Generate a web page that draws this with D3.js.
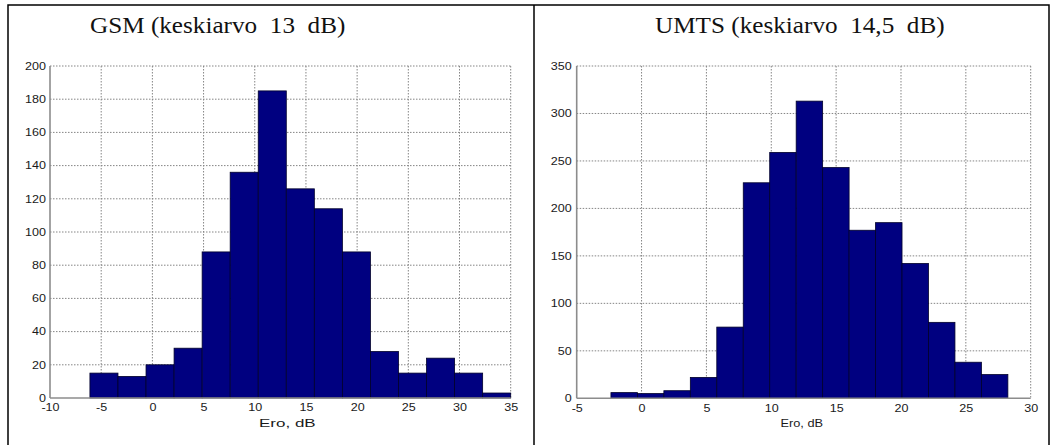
<!DOCTYPE html>
<html>
<head>
<meta charset="utf-8">
<script src="https://cdnjs.cloudflare.com/ajax/libs/d3/7.8.5/d3.min.js"></script>
<style>
  body { margin: 0; background: #fff; }
  svg { display: block; }
  .title { font-family: "Liberation Serif", "Times New Roman", serif; font-size: 22.5px; fill: #111; }
  .tick text, .xlabel { font-family: "Liberation Sans", Arial, sans-serif; font-size: 10.3px; fill: #1a1a1a; }
  .grid line { stroke: #858585; stroke-width: 1; stroke-dasharray: 1.5,1.5; }
  .axis-line { stroke: #8c8c8c; stroke-width: 1.6; }
  .bar { fill: #000080; stroke: #00002a; stroke-width: 0.8; }
  .frame { stroke: #000; stroke-width: 1.5; fill: none; }
</style>
</head>
<body>
<svg width="1054" height="445"></svg>
<script>
  // GSM histogram (Ero, dB)
  const gsmCenters = [-4.73, -1.99, 0.75, 3.49, 6.23, 8.97, 11.71, 14.45,
    17.19, 19.93, 22.67, 25.41, 28.15, 30.89, 33.63];
  const gsmCounts = [15, 13, 20, 30, 88, 136, 185, 126, 114, 88, 28, 15, 24, 15, 3];
  const gsmBinWidth = 2.74;
  const gsmXTicks = [-10, -5, 0, 5, 10, 15, 20, 25, 30, 35];
  const gsmYTicks = [0, 20, 40, 60, 80, 100, 120, 140, 160, 180, 200];

  // UMTS histogram (Ero, dB)
  const umtsCenters = [-1.34, 0.70, 2.74, 4.78, 6.82, 8.86, 10.90, 12.94,
    14.98, 17.02, 19.06, 21.10, 23.14, 25.18, 27.22];
  const umtsCounts = [6, 5, 8, 22, 75, 227, 259, 313, 243, 177, 185, 142, 80, 38, 25];
  const umtsBinWidth = 2.04;
  const umtsXTicks = [-5, 0, 5, 10, 15, 20, 25, 30];
  const umtsYTicks = [0, 50, 100, 150, 200, 250, 300, 350];

  const svg = d3.select('svg');

  // outer frame of the two panels
  svg.append('path').attr('class', 'frame')
    .attr('d', 'M8,445V5H1049V445M534,5V445');

  function drawHist(opts) {
    let x = d3.scaleLinear()
      .domain(d3.extent(opts.xTicks))
      .range([opts.left, opts.right]);
    let y = d3.scaleLinear()
      .domain(d3.extent(opts.yTicks))
      .range([opts.bottom, opts.top]);
    let sx = 1.22;
    let fmt = (d) => String(d);   // plain hyphen, like the original

    let g = svg.append('g');

    // dotted grid
    let grid = g.append('g').attr('class', 'grid');
    grid.selectAll('.gx')
      .data(opts.xTicks.slice(1))
      .enter().append('line')
      .attr('x1', (d) => x(d)).attr('x2', (d) => x(d))
      .attr('y1', opts.top).attr('y2', opts.bottom);
    grid.selectAll('.gy')
      .data(opts.yTicks.slice(1))
      .enter().append('line')
      .attr('x1', opts.left).attr('x2', opts.right)
      .attr('y1', (d) => y(d)).attr('y2', (d) => y(d));

    // bars
    g.selectAll('.bar')
      .data(opts.counts)
      .enter().append('rect')
      .attr('class', 'bar')
      .attr('x', (d, i) => x(opts.centers[i] - opts.binWidth / 2))
      .attr('width', (d, i) => x(opts.centers[i] + opts.binWidth / 2) -
        x(opts.centers[i] - opts.binWidth / 2))
      .attr('y', (d) => y(d))
      .attr('height', (d) => y(0) - y(d));

    // axes
    let xAxis = g.append('g')
      .attr('transform', 'translate(0,' + opts.bottom + ')')
      .call(d3.axisBottom(x).tickValues(opts.xTicks).tickFormat(fmt)
        .tickSize(0).tickPadding(6));
    let yAxis = g.append('g')
      .attr('transform', 'translate(' + opts.left + ',0)')
      .call(d3.axisLeft(y).tickValues(opts.yTicks).tickFormat(fmt)
        .tickSize(0).tickPadding(0));
    xAxis.select('.domain').remove();
    yAxis.select('.domain').remove();
    xAxis.selectAll('text').attr('transform', 'scale(' + sx + ',1)');
    yAxis.selectAll('text')
      .attr('x', -opts.yPad / sx)
      .attr('transform', 'scale(' + sx + ',1)');

    g.append('line').attr('class', 'axis-line')
      .attr('x1', opts.left).attr('x2', opts.right)
      .attr('y1', opts.bottom).attr('y2', opts.bottom);
    g.append('line').attr('class', 'axis-line')
      .attr('x1', opts.left).attr('x2', opts.left)
      .attr('y1', opts.top).attr('y2', opts.bottom);

    g.append('text')
      .attr('class', 'xlabel')
      .attr('text-anchor', 'middle')
      .attr('transform', 'translate(' + ((opts.left + opts.right) / 2 + opts.labelShift) +
        ',427) scale(' + opts.labelScale + ',1)')
      .text('Ero, dB');

    g.append('text')
      .attr('class', 'title')
      .attr('transform', 'translate(' + opts.titleX + ',33) scale(1.12,1)')
      .text(opts.title);
  }

  drawHist({
    centers: gsmCenters, counts: gsmCounts, binWidth: gsmBinWidth,
    xTicks: gsmXTicks, yTicks: gsmYTicks,
    left: 50, right: 510.7, top: 66, bottom: 398, yPad: 4,
    labelShift: 7, labelScale: 1.65,
    title: 'GSM (keskiarvo\u00a0 13\u00a0 dB)', titleX: 90,
  });

  drawHist({
    centers: umtsCenters, counts: umtsCounts, binWidth: umtsBinWidth,
    xTicks: umtsXTicks, yTicks: umtsYTicks,
    left: 576.7, right: 1030.7, top: 66, bottom: 398.3, yPad: 5,
    labelShift: -2, labelScale: 1.24,
    title: 'UMTS (keskiarvo\u00a0 14,5\u00a0 dB)', titleX: 655,
  });
</script>
</body>
</html>
